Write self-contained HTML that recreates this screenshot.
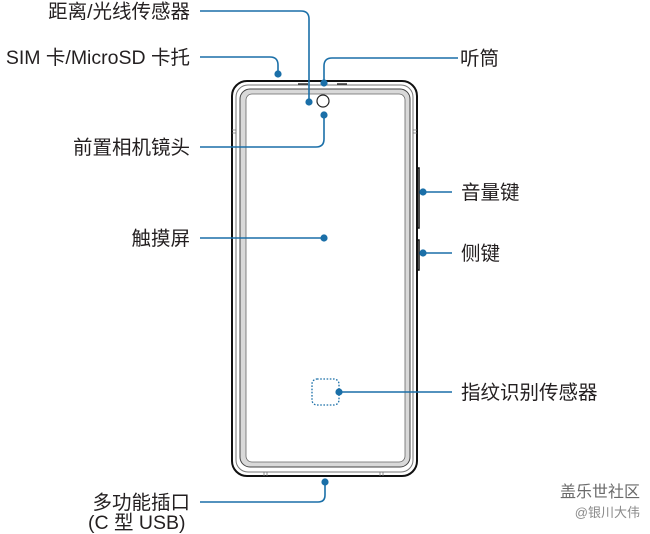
<!DOCTYPE html>
<html><head><meta charset="utf-8"><style>
html,body{margin:0;padding:0;background:#fff;}
svg{display:block;}
text{font-family:"Liberation Sans","Noto Sans CJK SC",sans-serif;font-size:19.5px;fill:#231f20;}
</style></head><body>
<svg width="650" height="534" viewBox="0 0 650 534" xmlns="http://www.w3.org/2000/svg">
<!-- phone -->
<rect x="232" y="81" width="185" height="395" rx="15" fill="#fff" stroke="#111" stroke-width="2"/>
<rect x="236" y="85" width="177" height="387" rx="12" fill="#fff" stroke="#777" stroke-width="1"/>
<rect x="240" y="89" width="170" height="378" rx="10" fill="#d9d9d9" stroke="#444" stroke-width="1"/>
<rect x="246" y="94" width="159" height="368" rx="6" fill="#fff" stroke="#666" stroke-width="0.8"/>
<!-- top slots -->
<path d="M298 84 h10 M337 84 h10" stroke="#333" stroke-width="1.5"/>
<!-- side ticks -->
<path d="M232 130 h4 M232 133 h4 M413 130 h4 M413 133 h4 M264 472 v4 M267 472 v4 M380 472 v4 M383 472 v4" stroke="#777" stroke-width="0.8"/>
<!-- side buttons -->
<path d="M417 168 h2 v60 h-2 M417 240 h2 v30 h-2" fill="none" stroke="#111" stroke-width="1.5"/>
<!-- camera -->
<circle cx="323" cy="101" r="6" fill="#fff" stroke="#222" stroke-width="1.2"/>
<!-- fingerprint -->
<rect x="312" y="379" width="27" height="26" rx="5" fill="none" stroke="#1a6fa8" stroke-width="1.3" stroke-dasharray="1.6 1.6"/>
<!-- leaders -->
<g fill="none" stroke="#1a6fa8" stroke-width="1.6">
<path d="M200 11 H301 Q309 11 309 19 V102"/>
<path d="M200 57 H270 Q278 57 278 65 V74"/>
<path d="M458 58 H332 Q324 58 324 66 V83"/>
<path d="M200 147 H316 Q324 147 324 139 V115"/>
<path d="M200 238 H324"/>
<path d="M423 192 H452"/>
<path d="M423 253 H452"/>
<path d="M339 392 H452"/>
<path d="M200 502 H318 Q325 502 325 495 V482"/>
</g>
<g fill="#1a6fa8">
<circle cx="309" cy="102" r="3.6"/>
<circle cx="278" cy="74" r="3.6"/>
<circle cx="324" cy="83" r="3.6"/>
<circle cx="324" cy="115" r="3.6"/>
<circle cx="324" cy="238" r="3.6"/>
<circle cx="423" cy="192" r="3.6"/>
<circle cx="423" cy="253" r="3.6"/>
<circle cx="339" cy="392" r="3.6"/>
<circle cx="325" cy="482" r="3.6"/>
</g>
<!-- labels -->
<g text-anchor="end">
<text x="190" y="18">距离/光线传感器</text>
<text x="190" y="64">SIM 卡/MicroSD 卡托</text>
<text x="190" y="154">前置相机镜头</text>
<text x="190" y="245">触摸屏</text>
<text x="190" y="509">多功能插口</text>
</g>
<text x="88" y="529">(C 型 USB)</text>
<text x="460" y="65">听筒</text>
<text x="461" y="199">音量键</text>
<text x="461" y="260">侧键</text>
<text x="461" y="399">指纹识别传感器</text>
<text x="640" y="497" text-anchor="end" style="font-size:16px;fill:#6a6a6a">盖乐世社区</text>
<text x="640" y="517" text-anchor="end" style="font-size:13px;fill:#8a8a8a">@银川大伟</text>
</svg>
</body></html>
